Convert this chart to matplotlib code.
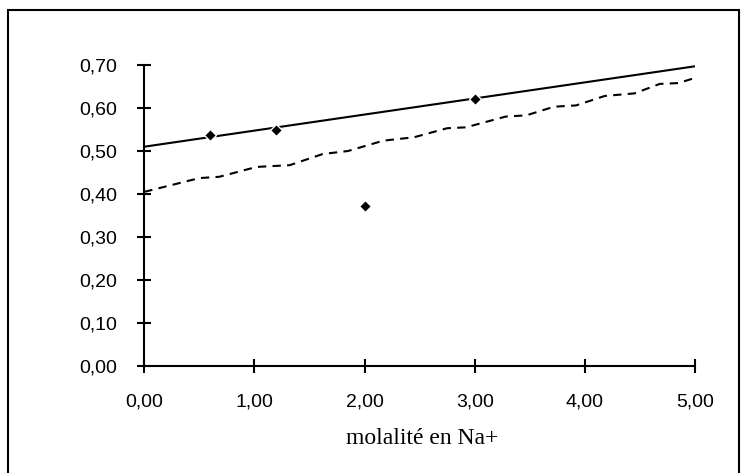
import matplotlib
matplotlib.use("Agg")
import matplotlib.pyplot as plt
from matplotlib.ticker import FuncFormatter, MultipleLocator
from matplotlib.patches import Rectangle

# Data
fit_x = [0.0, 5.0]
fit_y = [0.510, 0.697]

model_x = [0.00, 0.50, 0.68, 1.02, 1.32, 1.62, 1.85, 2.17, 2.45, 2.75,
           2.92, 3.28, 3.47, 3.72, 3.92, 4.18, 4.45, 4.68, 4.85, 5.00]
model_y = [0.405, 0.437, 0.440, 0.463, 0.467, 0.493, 0.500, 0.524, 0.532, 0.553,
           0.555, 0.580, 0.583, 0.603, 0.606, 0.628, 0.634, 0.656, 0.658, 0.670]

exp_x = [0.60, 1.20, 2.00, 3.00]
exp_y = [0.538, 0.548, 0.371, 0.621]

xlabel = "molalité en Na+"

W, H = 747, 473
fig = plt.figure(figsize=(W / 100, H / 100), dpi=100)
fig.patch.set_facecolor("white")

# outer chart-area border
fig.patches.append(Rectangle((8 / W, -0.05), (739 - 8) / W, (H - 10) / H + 0.05,
                             transform=fig.transFigure, fill=False,
                             edgecolor="black", linewidth=1.5, clip_on=False))

left, right = 144.3 / W, 695 / W
bottom, top = (H - 366) / H, (H - 65) / H
ax = fig.add_axes([left, bottom, right - left, top - bottom])

ax.plot(fit_x, fit_y, color="black", linewidth=1.5, solid_capstyle="butt", zorder=3)
ax.plot(model_x, model_y, color="black", linewidth=1.5, linestyle=(0, (4, 3)), zorder=3)
ax.plot(exp_x, exp_y, linestyle="none", marker="D", markersize=6.5,
        markerfacecolor="black", markeredgecolor="white", markeredgewidth=1.0, zorder=4)

ax.set_xlim(0, 5)
ax.set_ylim(0, 0.7)
ax.xaxis.set_major_locator(MultipleLocator(1.0))
ax.yaxis.set_major_locator(MultipleLocator(0.1))
fmt = FuncFormatter(lambda v, p: f"{v:.2f}".replace(".", ","))
ax.xaxis.set_major_formatter(fmt)
ax.yaxis.set_major_formatter(fmt)

for s in ["top", "right"]:
    ax.spines[s].set_visible(False)
for s in ["left", "bottom"]:
    ax.spines[s].set_linewidth(1.5)
ax.tick_params(direction="inout", length=9.5, width=1.5, pad=15,
               labelsize=14, colors="black")
for lab in ax.get_xticklabels() + ax.get_yticklabels():
    lab.set_fontfamily("Liberation Sans")

ax.set_xlabel(xlabel, fontfamily="Liberation Serif", fontsize=17)
ax.xaxis.label.set_va("baseline")
ax.xaxis.set_label_coords(0.5 + 2.5 / (695 - 144.3), (366 - 444) / (366 - 65))

fig.savefig("out.png", dpi=100, facecolor="white")
